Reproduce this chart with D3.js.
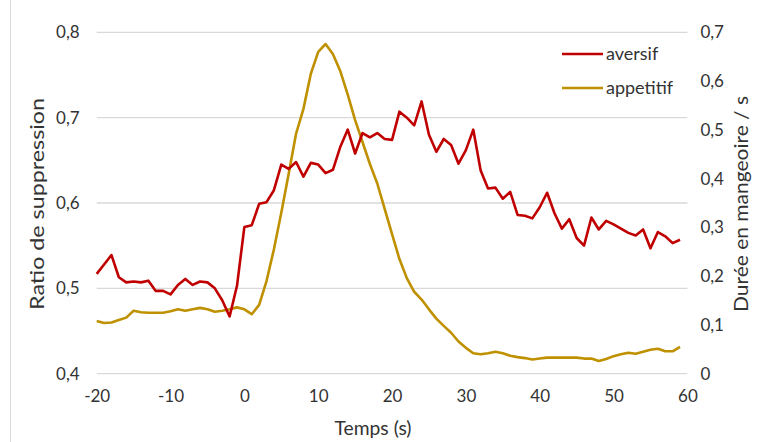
<!DOCTYPE html>
<html><head><meta charset="utf-8">
<script src="https://cdn.jsdelivr.net/npm/d3@7"></script>
<style>body{margin:0;background:#fff}svg{display:block}text{font-family:Lato,"Open Sans",sans-serif;fill:#333}</style>
</head><body><div id="chart"></div>
<script>
const times = d3.range(-20, 60);
const aversif = [0.517,0.528,0.539,0.513,0.507,0.508,0.507,0.509,0.497,0.497,
 0.493,0.504,0.511,0.504,0.508,0.507,0.500,0.486,0.467,0.503,
 0.572,0.574,0.599,0.601,0.615,0.645,0.640,0.648,0.631,0.647,
 0.645,0.635,0.639,0.666,0.686,0.658,0.682,0.677,0.682,0.675,
 0.674,0.707,0.700,0.691,0.719,0.680,0.660,0.675,0.668,0.646,
 0.662,0.686,0.638,0.617,0.618,0.605,0.613,0.586,0.585,0.582,
 0.595,0.612,0.588,0.570,0.581,0.559,0.550,0.583,0.569,0.579,
 0.575,0.570,0.565,0.562,0.569,0.547,0.566,0.561,0.553,0.557];
const appetitif = [0.108,0.104,0.105,0.110,0.115,0.129,0.126,0.125,0.125,0.125,
 0.128,0.132,0.129,0.132,0.135,0.132,0.127,0.129,0.132,0.136,
 0.132,0.122,0.141,0.190,0.255,0.330,0.410,0.492,0.543,0.615,
 0.660,0.676,0.655,0.620,0.572,0.520,0.475,0.430,0.390,0.338,
 0.286,0.235,0.196,0.168,0.152,0.132,0.113,0.098,0.084,0.066,
 0.053,0.042,0.040,0.042,0.045,0.042,0.037,0.034,0.032,0.029,
 0.031,0.033,0.033,0.033,0.033,0.033,0.031,0.031,0.026,0.030,
 0.036,0.040,0.043,0.041,0.045,0.049,0.051,0.046,0.046,0.055];
const xTicks = [-20,-10,0,10,20,30,40,50,60];
const leftTicks = [0.4,0.5,0.6,0.7,0.8];
const rightTicks = [0,0.1,0.2,0.3,0.4,0.5,0.6,0.7];
const seriesNames = ["aversif","appetitif"];
const colors = ["#c00000","#bf9000"];

const W=759,H=442;
const svg=d3.select("#chart").append("svg").attr("width",W).attr("height",H);
svg.append("line").attr("x1",10.5).attr("x2",10.5).attr("y1",0).attr("y2",H).attr("stroke","#d9d9d9");
const x=d3.scaleLinear().domain([-20,60]).range([96.7,687.4]);
const yL=d3.scaleLinear().domain([0.4,0.8]).range([373.7,32.3]);
const yR=d3.scaleLinear().domain([0,0.7]).range([373.7,32.3]);
const fmt=d=>d3.format(".1f")(d).replace(".",",");
const fmtR=d=>d===0?"0":fmt(d);

// gridlines
svg.append("g").selectAll("line").data(leftTicks).join("line")
 .attr("x1",x(-20)).attr("x2",x(60)).attr("y1",d=>yL(d)).attr("y2",d=>yL(d))
 .attr("stroke","#d9d9d9").attr("stroke-width",1.3);

const gL=svg.append("g").attr("transform",`translate(${x(-20)},0)`)
 .call(d3.axisLeft(yL).tickValues(leftTicks).tickFormat(fmt).tickSize(0).tickPadding(17));
const gR=svg.append("g").attr("transform",`translate(${x(60)},0)`)
 .call(d3.axisRight(yR).tickValues(rightTicks).tickFormat(fmtR).tickSize(0).tickPadding(13));
const gX=svg.append("g").attr("transform",`translate(0,${yL(0.4)})`)
 .call(d3.axisBottom(x).tickValues(xTicks).tickFormat(d3.format("d")).tickSize(0).tickPadding(16));
[gL,gR,gX].forEach(g=>{g.select(".domain").remove();g.selectAll("text").attr("font-size",17).attr("fill","#333").attr("font-family","Lato, sans-serif");});
gX.selectAll("text").text(d=>d<0?"-"+Math.abs(d):d);

const lineL=d3.line().x((d,i)=>x(times[i])).y(d=>yL(d));
const lineR=d3.line().x((d,i)=>x(times[i])).y(d=>yR(d));
svg.append("path").datum(appetitif).attr("d",lineR).attr("fill","none").attr("stroke",colors[1]).attr("stroke-width",2.6).attr("stroke-linejoin","round");
svg.append("path").datum(aversif).attr("d",lineL).attr("fill","none").attr("stroke",colors[0]).attr("stroke-width",2.6).attr("stroke-linejoin","round");

// titles
svg.append("text").attr("transform","translate(44,204) rotate(-90)").attr("text-anchor","middle").attr("font-size",19)
 .attr("textLength",212).attr("lengthAdjust","spacingAndGlyphs").text("Ratio de suppression");
svg.append("text").attr("transform","translate(748,204) rotate(-90)").attr("text-anchor","middle").attr("font-size",19)
 .attr("textLength",216).attr("lengthAdjust","spacingAndGlyphs").text("Durée en mangeoire / s");
svg.append("text").attr("x",373).attr("y",435).attr("text-anchor","middle").attr("font-size",19)
 .attr("textLength",77).attr("lengthAdjust","spacingAndGlyphs").text("Temps (s)");

// legend
const leg=svg.append("g");
seriesNames.forEach((n,i)=>{
 const yy=54+i*34;
 leg.append("line").attr("x1",562).attr("x2",603).attr("y1",yy).attr("y2",yy).attr("stroke",colors[i]).attr("stroke-width",2.6);
 leg.append("text").attr("x",606).attr("y",yy+6).attr("font-size",18).text(n);
});
</script></body></html>
